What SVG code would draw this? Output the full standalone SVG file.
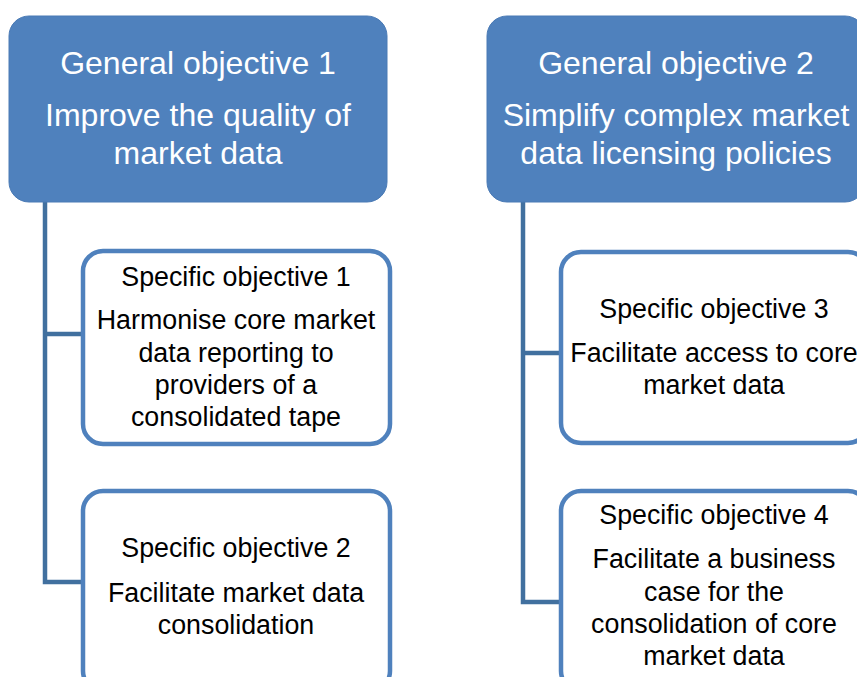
<svg xmlns="http://www.w3.org/2000/svg" width="857" height="677" viewBox="0 0 857 677">
<style>
.gen rect{fill:#4F81BD;stroke:#4A7AB5;stroke-width:1}
.gen text{fill:#FFFFFF;font-family:"Liberation Sans",Arial,sans-serif;font-size:32px;text-anchor:middle}
.spec rect{fill:#FFFFFF;stroke:#4F81BD;stroke-width:4.5}
.spec text{fill:#000000;font-family:"Liberation Sans",Arial,sans-serif;font-size:26.8px;text-anchor:middle}
.conn{fill:none;stroke:#41709F;stroke-width:4.5}
</style>
<rect width="857" height="677" fill="#FFFFFF"/>
<g id="connectors">
<path class="conn" d="M45,202 V582 H82 M45,334 H82"/>
<path class="conn" d="M523,202 V602 H560 M523,353 H560"/>
</g>
<g id="general1" class="gen">
<rect x="9" y="16" width="378" height="186" rx="20" ry="20"/>
<text x="198" y="74">General objective 1</text>
<text x="198" y="126">Improve the quality of</text>
<text x="198" y="164">market data</text>
</g>
<g id="general2" class="gen">
<rect x="487" y="16" width="378" height="186" rx="20" ry="20"/>
<text x="676" y="74">General objective 2</text>
<text x="676" y="126">Simplify complex market</text>
<text x="676" y="164">data licensing policies</text>
</g>
<g id="specific1" class="spec">
<rect x="83" y="251" width="307" height="193" rx="20" ry="20"/>
<text x="236" y="286">Specific objective 1</text>
<text x="236" y="329">Harmonise core market</text>
<text x="236" y="362">data reporting to</text>
<text x="236" y="394">providers of a</text>
<text x="236" y="426">consolidated tape</text>
</g>
<g id="specific2" class="spec">
<rect x="83" y="491" width="307" height="200" rx="20" ry="20"/>
<text x="236" y="557">Specific objective 2</text>
<text x="236" y="602">Facilitate market data</text>
<text x="236" y="634">consolidation</text>
</g>
<g id="specific3" class="spec">
<rect x="561" y="252" width="307" height="191" rx="20" ry="20"/>
<text x="714" y="318">Specific objective 3</text>
<text x="714" y="362">Facilitate access to core</text>
<text x="714" y="394">market data</text>
</g>
<g id="specific4" class="spec">
<rect x="561" y="491" width="307" height="200" rx="20" ry="20"/>
<text x="714" y="524">Specific objective 4</text>
<text x="714" y="568">Facilitate a business</text>
<text x="714" y="601">case for the</text>
<text x="714" y="633">consolidation of core</text>
<text x="714" y="665">market data</text>
</g>
</svg>
